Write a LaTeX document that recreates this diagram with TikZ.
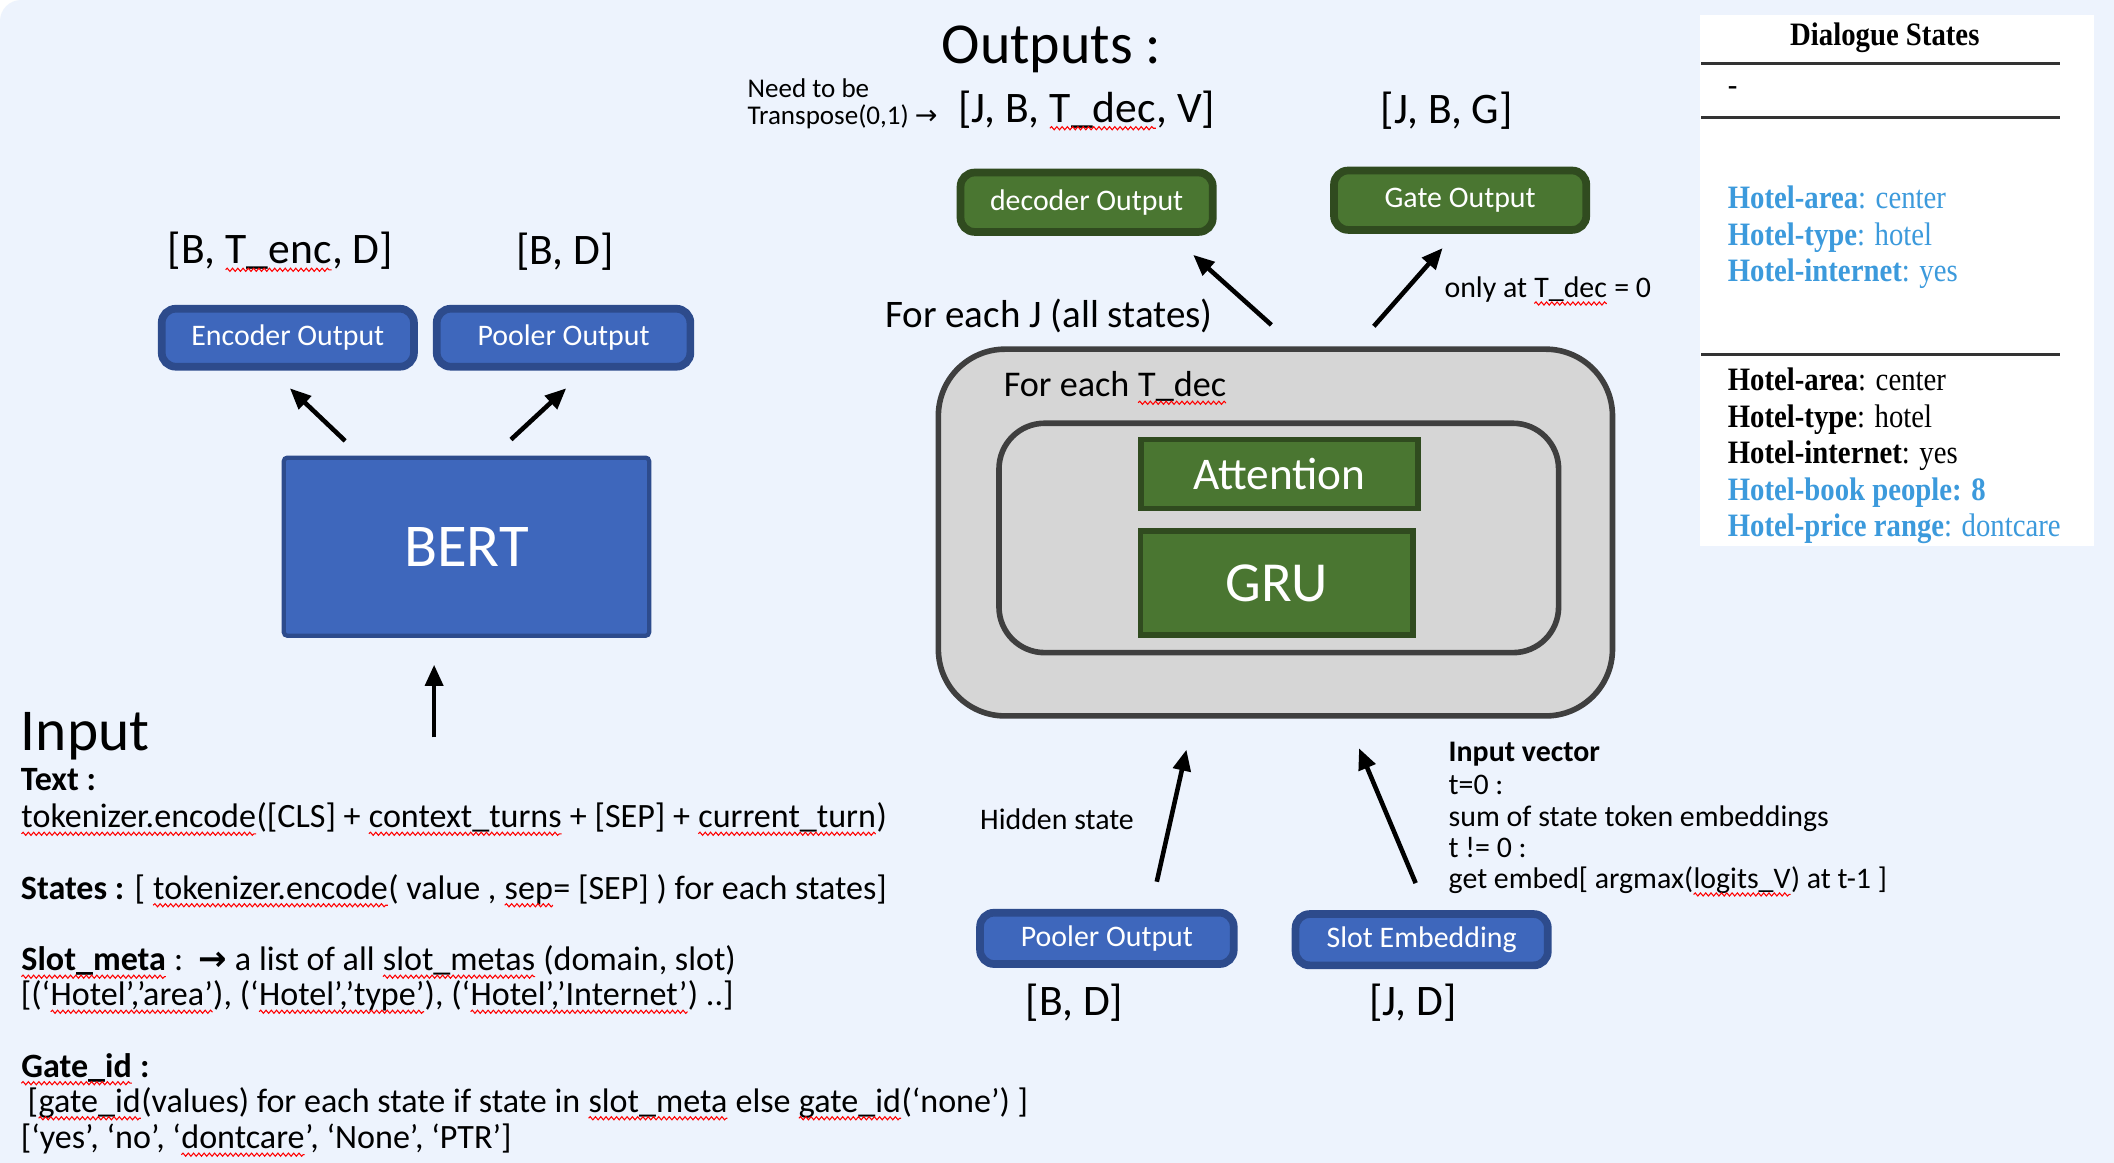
\documentclass[tikz,border=0pt]{standalone}
\usepackage{fontspec}
\setmainfont{Carlito}
\newfontfamily\dsfont{Liberation Serif}[FakeStretch=0.88]
\newfontfamily\symfont{DejaVu Sans}
\usetikzlibrary{arrows.meta,decorations.pathmorphing}

\definecolor{bgblue}{HTML}{EDF3FD}
\definecolor{boxblue}{HTML}{3E67BC}
\definecolor{boxblueedge}{HTML}{2D4B8C}
\definecolor{boxgreen}{HTML}{4A7631}
\definecolor{boxgreenedge}{HTML}{304B1F}
\definecolor{loopgray}{HTML}{D6D6D6}
\definecolor{loopedge}{HTML}{3F3F3F}
\definecolor{dsblue}{HTML}{3C9ADC}

\newcommand\fs[2]{\fontsize{#1}{#2}\selectfont}
% red spell-check squiggle under a word
\newcommand\sq[1]{\tikz[baseline=(w.base)]{\node[inner sep=0pt,outer sep=0pt,draw=none,fill=none] (w) {#1}; \draw[red, line width=0.3pt, decorate, decoration={snake, amplitude=0.45pt, segment length=1.5pt}] ([yshift=-1.7pt]w.base west) -- ([yshift=-1.7pt]w.base east);}}

\begin{document}
\begin{tikzpicture}[x=0.013482cm, y=-0.013482cm,
  arr/.style={-{Triangle[length=6pt,width=5pt]}, line width=1.3pt},
  bluebox/.style={draw=boxblueedge, fill=boxblue, line width=2.2pt, rounded corners=4pt, text=white, font=\fs{8.5}{10}, inner sep=0pt},
  greenbox/.style={bluebox, draw=boxgreenedge, fill=boxgreen},
  cellbox/.style={draw=boxgreenedge, fill=boxgreen, line width=1.6pt, text=white, inner sep=0pt},
  loopbox/.style={draw=loopedge, fill=loopgray, line width=1.6pt, inner sep=0pt},
  dims/.style={font=\fs{12.4}{14}},
  note/.style={font=\fs{8.5}{9}},
  intext/.style={font=\fs{9.7}{10}, anchor=base west, inner sep=0pt},
  dsline/.style={font=\dsfont\fs{9.3}{10}, anchor=base west, inner sep=0pt},
  dsrule/.style={line width=0.8pt, draw=black!80}]
	%%%%% BACKGROUND %%%%%
	\useasboundingbox (0,0) rectangle (1568,862);
	\fill[white] (0,0) rectangle (1568,862);
	\fill[bgblue, rounded corners=6pt] (0,0) rectangle (1600,900);
	
	%%%%% OUTPUTS %%%%%
	\node[font=\fs{16.5}{18}, anchor=base] (outtitle) at (780,47) {Outputs :};
	\node[font=\fs{7.7}{7.7}, align=left, anchor=west, inner sep=0pt] (tnote) at (554,77) {Need to be\\Transpose(0,1) {\symfont→}};
	\node[dims] (decdim) at (806,82) {[J, B, \sq{T\_dec}, V]};
	\node[dims] (gatedim) at (1073,82) {[J, B, G]};
	\node[greenbox, minimum width=71.8pt, minimum height=16.9pt] (dec) at (806,150) {decoder Output};
	\node[greenbox, minimum width=71.8pt, minimum height=16.9pt] (gate) at (1083,148.5) {Gate Output};
	
	%%%%% ENCODER %%%%%
	\node[dims] (encdim) at (208,187) {[B, \sq{T\_enc}, D]};
	\node[dims] (pooldim) at (419,187) {[B, D]};
	\node[bluebox, minimum width=71.8pt, minimum height=16.5pt] (enc) at (213.5,250.5) {Encoder Output};
	\node[bluebox, minimum width=72.2pt, minimum height=16.5pt] (pool) at (418,250.5) {Pooler Output};
	\node[draw=boxblueedge, fill=boxblue, line width=1.2pt, rounded corners=1pt, minimum width=104pt, minimum height=50.7pt, text=white, font=\fs{17.3}{20}] (bert) at (346,405.5) {BERT};
	
	\coordinate (encfrom) at (256,327);
	\coordinate (encto) at (215,288);
	\coordinate (poolfrom) at (379,326);
	\coordinate (poolto) at (420,288);
	\coordinate (bertfrom) at (322,547);
	\coordinate (bertto) at (322,493);
	\draw[arr] (encfrom) -- (encto);
	\draw[arr] (poolfrom) -- (poolto);
	\draw[arr] (bertfrom) -- (bertto);
	
	%%%%% DECODER %%%%%
	\node[font=\fs{11.1}{13}] (forj) at (778,234) {For each J (all states)};
	\node[note] (onlyat) at (1148,216) {only at \sq{T\_dec} = 0};
	\node[loopbox, rounded corners=19pt, minimum width=191.9pt, minimum height=104.4pt] (outer) at (946,395) {};
	\node[font=\fs{10.3}{12}, anchor=west, inner sep=0pt] (fort) at (744,288) {For each \sq{T\_dec}};
	\node[loopbox, rounded corners=13pt, minimum width=159.3pt, minimum height=65.3pt] (inner) at (948.5,399) {};
	\node[cellbox, minimum width=79pt, minimum height=19.6pt, font=\fs{12.9}{14}] (att) at (949,351.5) {Attention};
	\node[cellbox, minimum width=77.5pt, minimum height=29.6pt, font=\fs{16.1}{18}] (gru) at (947,432.5) {GRU};
	
	\coordinate (decfrom) at (943,241);
	\coordinate (decto) at (885,189);
	\coordinate (gatefrom) at (1019,242);
	\coordinate (gateto) at (1070,184);
	\draw[arr] (decfrom) -- (decto);
	\draw[arr] (gatefrom) -- (gateto);
	
	\node[note] (hidden) at (784,608) {Hidden state};
	\node[note, anchor=base west, inner sep=0pt] (iv1) at (1074,565) {\textbf{Input vector}};
	\node[note, anchor=base west, inner sep=0pt] (iv2) at (1074,589) {t=0 :};
	\node[note, anchor=base west, inner sep=0pt] (iv3) at (1074,613) {sum of state token embeddings};
	\node[note, anchor=base west, inner sep=0pt] (iv4) at (1074,636) {t != 0 :};
	\node[note, anchor=base west, inner sep=0pt] (iv5) at (1074,659) {get embed[ argmax(\sq{logits\_V}) at t-1 ]};
	
	\node[bluebox, minimum width=72.2pt, minimum height=14.6pt] (hpool) at (821,696) {Pooler Output};
	\node[bluebox, minimum width=71.8pt, minimum height=14.6pt] (slot) at (1054.5,697) {Slot Embedding};
	\node[dims] (hpooldim) at (797,744) {[B, D]};
	\node[dims] (slotdim) at (1048,744) {[J, D]};
	
	\coordinate (hidfrom) at (858,654);
	\coordinate (hidto) at (880,556);
	\coordinate (ivfrom) at (1050,655);
	\coordinate (ivto) at (1008,555);
	\draw[arr] (hidfrom) -- (hidto);
	\draw[arr] (ivfrom) -- (ivto);
	
	%%%%% INPUT %%%%%
	\node[font=\fs{16.9}{18}, anchor=base west, inner sep=0pt] (intitle) at (15,557) {Input};
	\node[intext] (in1) at (15,586) {\textbf{Text :}};
	\node[intext] (in2) at (15,614) {\sq{tokenizer.encode}([CLS] + \sq{context\_turns} + [SEP] + \sq{current\_turn})};
	\node[intext] (in3) at (15,667) {\textbf{States :} [ \sq{tokenizer.encode}( value , \sq{sep}= [SEP] ) for each states]};
	\node[intext] (in4) at (15,720) {\textbf{\sq{Slot\_meta}} :\ \ {\symfont\bfseries →} a list of all \sq{slot\_metas} (domain, slot)};
	\node[intext] (in5) at (15,746) {[(‘\sq{Hotel’,’area’}), (‘\sq{Hotel’,’type’}), (‘\sq{Hotel’,’Internet’}) ..]};
	\node[intext] (in6) at (15,799) {\textbf{\sq{Gate\_id} :}};
	\node[intext] (in7) at (20,825) {[\sq{gate\_id}(values) for each state if state in \sq{slot\_meta} else \sq{gate\_id}(‘none’) ]};
	\node[intext] (in8) at (15,852) {[‘yes’, ‘no’, ‘\sq{dontcare}’, ‘None’, ‘PTR’]};
	
	%%%%% DIALOGUE STATES %%%%%
	\fill[white] (1261,11) rectangle (1553,405);
	\node[font=\dsfont\bfseries\fs{9.3}{10}, anchor=base] (dstitle) at (1398,34) {Dialogue States};
	\draw[dsrule] (1262,47) -- (1528,47);
	\draw[dsrule] (1262,87) -- (1528,87);
	\draw[dsrule] (1262,263) -- (1528,263);
	\node[dsline] (dsnone) at (1281,71) {-};
	\foreach \y/\c/\k/\v in {155/dsblue/Hotel-area/center, 182/dsblue/Hotel-type/hotel, 209/dsblue/Hotel-internet/yes, 290/black/Hotel-area/center, 317/black/Hotel-type/hotel, 344/black/Hotel-internet/yes}
		\node[dsline, text=\c] (ds\y) at (1281,\y) {\textbf{\k}: \v};
	\node[dsline, text=dsblue] (dsbook) at (1281,371) {\textbf{Hotel-book people: 8}};
	\node[dsline, text=dsblue] (dsprice) at (1281,398) {\textbf{Hotel-price range}: dontcare};
\end{tikzpicture}
\end{document}
